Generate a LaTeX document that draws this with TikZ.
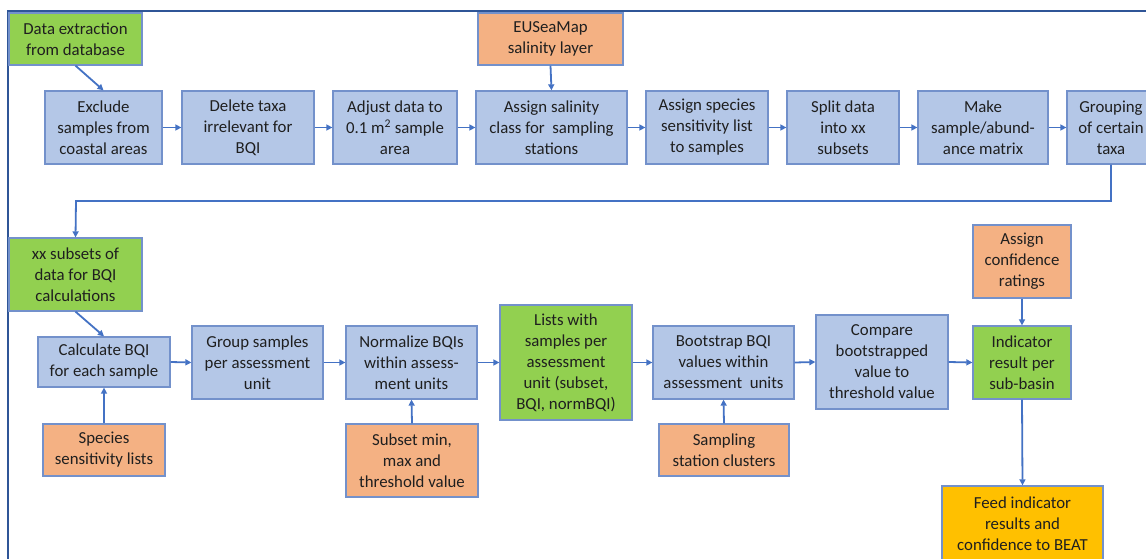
\documentclass[tikz,border=0pt]{standalone}
\usepackage{fontspec}
\setmainfont{Carlito}
\usetikzlibrary{arrows.meta}
\definecolor{bluefill}{HTML}{B4C7E7}
\definecolor{greenfill}{HTML}{92D050}
\definecolor{orangefill}{HTML}{F4B183}
\definecolor{yellowfill}{HTML}{FFC000}
\definecolor{boxborder}{HTML}{7391CB}
\definecolor{arrowcol}{HTML}{4472C4}
\definecolor{framecol}{HTML}{2F5597}
\definecolor{txt}{HTML}{1F1F1F}
\newcommand\mybox[7]{\node[#1, minimum width={#5-#3}, minimum height={#6-#4}] (#2) at ({(#3+#5)/2},{(#4+#6)/2}) {#7};}
\tikzset{
  basebox/.style={draw=boxborder, line width=1.3pt, inner sep=0pt, align=center,
    font=\fontsize{16.8}{21}\selectfont, text=txt},
  bluebox/.style={basebox, fill=bluefill},
  greenbox/.style={basebox, fill=greenfill},
  orangebox/.style={basebox, fill=orangefill},
  yellowbox/.style={basebox, fill=yellowfill},
  arr/.style={draw=arrowcol, line width=1.8pt, -{Triangle[length=6pt,width=6pt]}},
}
\begin{document}
\begin{tikzpicture}[x=1pt,y=-1pt]
\useasboundingbox (0,0) rectangle (1146,559);
\clip (0,0) rectangle (1146,559);
\fill[white] (0,0) rectangle (1146,559);
\draw[framecol, line width=2.5pt] (8,565) -- (8,11) -- (1150,11);
% row 1
\mybox{greenbox}{dat}{9}{13}{142}{65}{Data extraction\\from database}
\mybox{bluebox}{exc}{45}{91}{162}{164}{Exclude\\samples from\\coastal areas}
\mybox{bluebox}{del}{182}{91}{314}{164}{Delete taxa\\irrelevant for\\BQI}
\mybox{bluebox}{adj}{333}{91}{457}{164}{Adjust data to\\0.1 m\textsuperscript{2} sample\\area}
\mybox{orangebox}{eu}{478}{13}{623}{65}{EUSeaMap\\salinity layer}
\mybox{bluebox}{sal}{476}{91}{627}{164}{Assign salinity\\class for \ sampling\\stations}
\mybox{bluebox}{spl}{646}{91}{768}{164}{Assign species\\sensitivity list\\to samples}
\mybox{bluebox}{split}{787}{91}{899}{164}{Split data\\into xx\\subsets}
\mybox{bluebox}{mat}{918}{91}{1048}{164}{Make\\sample/abund-\\ance matrix}
\mybox{bluebox}{grp}{1067}{91}{1155}{164}{Grouping\\of certain\\taxa}
% row 2
\mybox{greenbox}{xx}{9}{238}{142}{311}{xx subsets of\\data for BQI\\calculations}
\mybox{bluebox}{calc}{38}{337}{170}{387}{Calculate BQI\\for each sample}
\mybox{bluebox}{gsa}{192}{326}{323}{399}{Group samples\\per assessment\\unit}
\mybox{bluebox}{norm}{346}{326}{477}{399}{Normalize BQIs\\within assess-\\ment units}
\mybox{greenbox}{lists}{500}{305}{632}{420}{Lists with\\samples per\\assessment\\unit (subset,\\BQI, normBQI)}
\mybox{bluebox}{boot}{653}{326}{794}{399}{Bootstrap BQI\\values within\\assessment \ units}
\mybox{bluebox}{cmp}{816}{315}{948}{409}{Compare\\bootstrapped\\value to\\threshold value}
\mybox{greenbox}{ind}{973}{326}{1071}{399}{Indicator\\result per\\sub-basin}
\mybox{orangebox}{conf}{973}{225}{1071}{298}{Assign\\confidence\\ratings}
\mybox{yellowbox}{feed}{942}{486}{1103}{562}{Feed indicator\\results and\\confidence to BEAT}
\mybox{orangebox}{ssl}{43}{424}{165}{476}{Species\\sensitivity lists}
\mybox{orangebox}{sub}{346}{424}{478}{497}{Subset min,\\max and\\threshold value}
\mybox{orangebox}{ssc}{659}{424}{789}{476}{Sampling\\station clusters}
% connectors
\coordinate (bend) at (76,201);
\draw[arr] (dat.south) -- (exc.north);
\draw[arr] (exc.east) -- (del.west);
\draw[arr] (del.east) -- (adj.west);
\draw[arr] (adj.east) -- (sal.west);
\draw[arr] (eu.south) -- (sal.north);
\draw[arr] (sal.east) -- (spl.west);
\draw[arr] (spl.east) -- (split.west);
\draw[arr] (split.east) -- (mat.west);
\draw[arr] (mat.east) -- (grp.west);
\draw[arr] (grp.south) |- (bend) -- (xx.north);
\draw[arr] (xx.south) -- (calc.north);
\draw[arr] (calc.east) -- (gsa.west);
\draw[arr] (gsa.east) -- (norm.west);
\draw[arr] (norm.east) -- (lists.west);
\draw[arr] (lists.east) -- (boot.west);
\draw[arr] (boot.east) -- (cmp.west);
\draw[arr] (cmp.east) -- (ind.west);
\draw[arr] (ssl.north) -- (calc.south);
\draw[arr] (sub.north) -- (norm.south);
\draw[arr] (ssc.north) -- (boot.south);
\draw[arr] (conf.south) -- (ind.north);
\draw[arr] (ind.south) -- (feed.north);
\end{tikzpicture}
\end{document}
